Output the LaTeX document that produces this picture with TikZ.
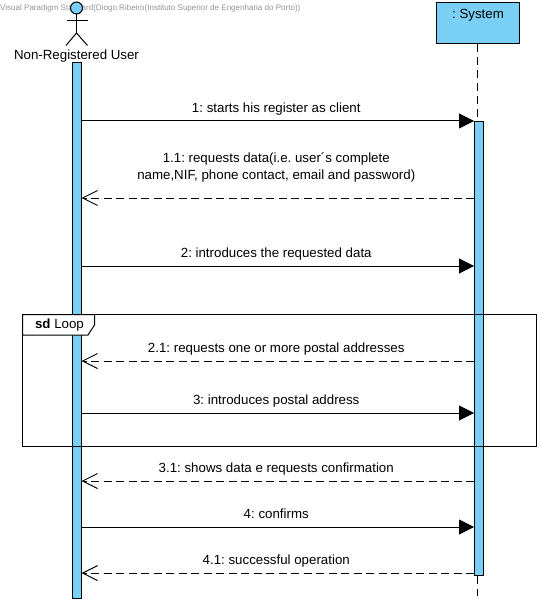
\documentclass[tikz,border=0pt]{standalone}
\usepackage{fontspec}
\setmainfont{Liberation Sans}
\usetikzlibrary{arrows.meta,calc,positioning}
\definecolor{barblue}{HTML}{7ACFF5}
\frenchspacing
\tikzset{
  lifebar/.style={draw,rectangle,fill=barblue,minimum width=8.5pt,inner sep=0pt,line width=1pt},
  sysbox/.style={draw,rectangle,fill=barblue,minimum width=83pt,minimum height=41.5pt,inner sep=0pt,line width=1pt},
  lbl/.style={font=\fontsize{13.3}{17}\selectfont,text=black,inner sep=0pt,align=center},
  msglbl/.style={lbl,text depth=3pt,xshift=-1.5pt,above=5pt},
  call/.style={line width=1pt,-{Triangle[length=15pt,width=15pt]}},
  reply/.style={line width=1pt,dash pattern=on 8pt off 4.5pt,-{Straight Barb[length=15pt,width=15pt]}},
  lifeline/.style={line width=1pt,dash pattern=on 8pt off 5pt}
}
\begin{document}
\begin{tikzpicture}[x=1pt,y=-1pt]
  \useasboundingbox (0,0) rectangle (541,604);
  \node[anchor=west,inner sep=0pt,text=gray!85,font=\fontsize{8.03}{10}\selectfont] (header) at (0,8.5) {Visual Paradigm Standard(Diogo Ribeiro(Instituto Superior de Engenharia do Porto))};
  % actor
  \node[draw,circle,fill=barblue,minimum size=12pt,inner sep=0pt,line width=1pt] (head) at (76.5,8) {};
  \coordinate (shoulderl) at (66.5,21);
  \coordinate (shoulderr) at (87.5,21);
  \coordinate (hip) at (76.5,33);
  \coordinate (footl) at (66,45.5);
  \coordinate (footr) at (87.5,45.5);
  \draw[line width=1pt] (head.south)--(hip);
  \draw[line width=1pt] (shoulderl)--(shoulderr);
  \draw[line width=1pt] (footl)--(hip)--(footr);
  \node[lbl] (user) at (76.5,56.5) {Non-Registered User};
  % system
  \node[sysbox] (sys) at (478,23.25) {};
  \node[lbl] (syslabel) at (478,15) {: System};
  % bars
  \node[lifebar,minimum height=535.5pt] (userbar) at (76.75,330.25) {};
  \node[lifebar,minimum height=453.5pt] (sysbar) at (478.75,348.25) {};
  \coordinate (sysend) at (477.5,596);
  \draw[lifeline] (sys.south -| 477.5,0)--(sysbar.north -| 477.5,0);
  \draw[lifeline] (sysbar.south -| 477.5,0)--(sysend);
  % message rows
  \coordinate (m1) at (0,121);
  \coordinate (m11) at (0,198);
  \coordinate (m2) at (0,266);
  \coordinate (m21) at (0,361);
  \coordinate (m3) at (0,413);
  \coordinate (m31) at (0,481);
  \coordinate (m4) at (0,527);
  \coordinate (m41) at (0,573);
  \draw[call] (userbar.east |- m1)--node[msglbl]{1: starts his register as client}(sysbar.west |- m1);
  \draw[reply] (sysbar.west |- m11)--node[msglbl,above=15pt]{1.1: requests data(i.e. user´s complete\\name,NIF, phone contact, email and password)}(userbar.east |- m11);
  \draw[call] (userbar.east |- m2)--node[msglbl]{2: introduces the requested data}(sysbar.west |- m2);
  \draw[reply] (sysbar.west |- m21)--node[msglbl]{2.1: requests one or more postal addresses}(userbar.east |- m21);
  \draw[call] (userbar.east |- m3)--node[msglbl]{3: introduces postal address}(sysbar.west |- m3);
  \draw[reply] (sysbar.west |- m31)--node[msglbl]{3.1: shows data e requests confirmation}(userbar.east |- m31);
  \draw[call] (userbar.east |- m4)--node[msglbl]{4: confirms}(sysbar.west |- m4);
  \draw[reply] (sysbar.west |- m41)--node[msglbl]{4.1: successful operation}(userbar.east |- m41);
  % loop frame
  \draw[line width=1pt] (22.5,314.5) rectangle (536.5,446.5);
  \draw[line width=1pt,fill=white] (22.5,314.5)--(94.5,314.5)--(94.5,325)--(88,335)--(22.5,335)--cycle;
  \node[lbl] (loop) at (59.5,325.5) {\textbf{sd} Loop};
\end{tikzpicture}
\end{document}
